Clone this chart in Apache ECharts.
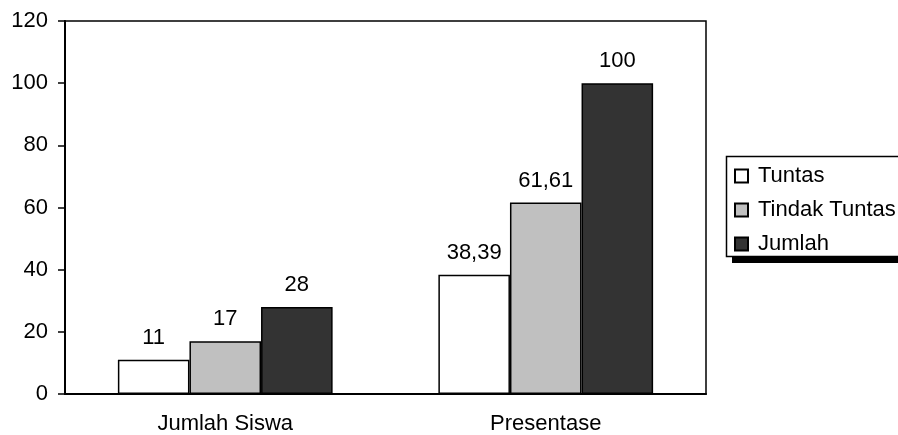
<!DOCTYPE html>
<html><head><meta charset="utf-8">
<script src="https://cdn.jsdelivr.net/npm/echarts@6/dist/echarts.min.js"></script>
<style>html,body{margin:0;padding:0;background:#fff}#c{width:898px;height:435px}</style>
</head><body><div id="c"></div>
<script>
const categories = ["Jumlah Siswa", "Presentase"];
const seriesNames = ["Tuntas", "Tindak Tuntas", "Jumlah"];
const tuntas = [11, 38.39];
const tindakTuntas = [17, 61.61];
const jumlah = [28, 100];
const colors = ["#ffffff", "#c0c0c0", "#333333"];
const values = [tuntas, tindakTuntas, jumlah];

const chart = echarts.init(document.getElementById('c'));
const font = '"Liberation Sans", Arial, sans-serif';
chart.setOption({
  animation: false,
  textStyle: { fontFamily: font },
  grid: { left: 65, right: 192, top: 21, bottom: 41, show: true, borderColor: '#000', borderWidth: 1.5, backgroundColor: 'transparent' },
  graphic: [
    { type: 'rect', z: 0, silent: true, shape: { x: 732, y: 162, width: 200, height: 101 }, style: { fill: '#000' } },
    { type: 'rect', z: 1, silent: true, shape: { x: 726.5, y: 156.5, width: 200, height: 100 }, style: { fill: '#fff', stroke: '#000', lineWidth: 1.5 } }
  ],
  legend: {
    left: 734, top: 165, orient: 'vertical', z: 10,
    padding: 0, itemGap: 12, itemWidth: 13, itemHeight: 13,
    icon: 'rect',
    itemStyle: { borderColor: '#000', borderWidth: 2 },
    textStyle: { fontSize: 22, color: '#000', fontFamily: font, padding: [0,0,0,5] },
    data: seriesNames
  },
  xAxis: {
    type: 'category', data: categories,
    axisLine: { lineStyle: { color: '#000', width: 2 } },
    axisTick: { show: false },
    axisLabel: { color: '#000', fontSize: 22, margin: 19, fontFamily: font }
  },
  yAxis: {
    type: 'value', min: 0, max: 120, interval: 20,
    axisLine: { show: true, lineStyle: { color: '#000', width: 2 } },
    axisTick: { show: true, length: 7, lineStyle: { color: '#000', width: 1.5 } },
    splitLine: { show: false },
    axisLabel: { color: '#000', fontSize: 22, margin: 17, fontFamily: font }
  },
  series: seriesNames.map((n, i) => ({
    name: n, type: 'bar', data: values[i],
    barGap: '0%', barCategoryGap: '33%',
    itemStyle: { color: colors[i], borderColor: '#000', borderWidth: 1.5 },
    label: { show: true, position: 'top', distance: 11, color: '#000', fontSize: 22, fontFamily: font,
      formatter: p => String(p.value).replace('.', ',') }
  }))
});
</script></body></html>
